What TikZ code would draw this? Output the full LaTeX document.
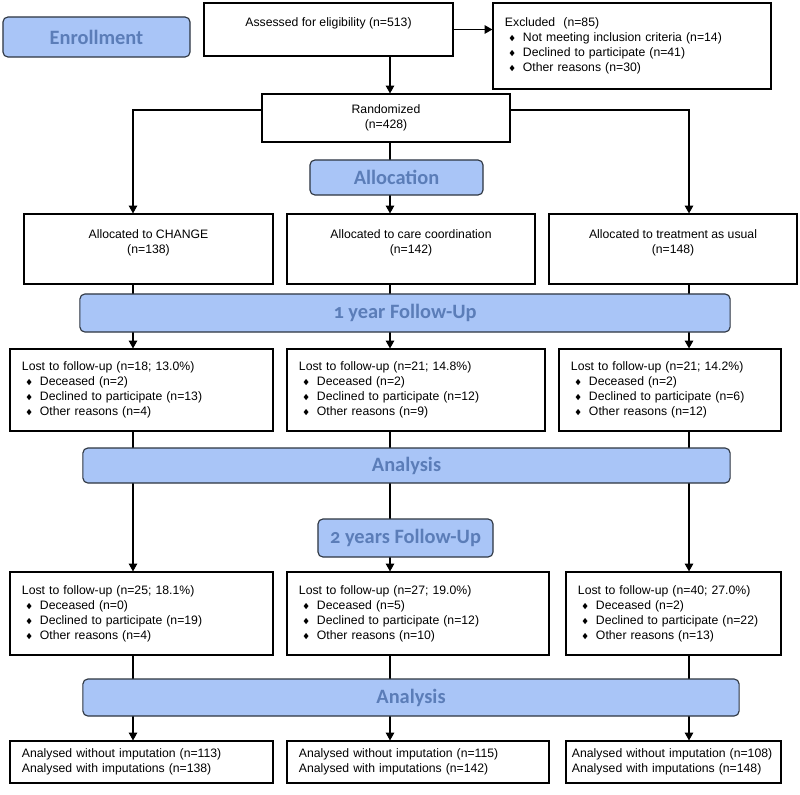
\documentclass[tikz,border=0pt]{standalone}
\usepackage{fontspec}
\usepackage{amssymb}
\setmainfont{Liberation Sans}
\newfontfamily\barfont[Numbers=OldStyle]{Carlito}
\usetikzlibrary{arrows.meta,backgrounds}

\definecolor{barfill}{HTML}{A9C5F7}
\definecolor{bartext}{HTML}{5B7DB8}
\definecolor{barline}{HTML}{2D3540}

\newcommand{\itm}{\hspace*{2.8pt}\makebox[10pt][l]{\raisebox{0.6pt}{\tiny$\blacklozenge$}}}

\tikzset{
  box/.style={draw, line width=0.8pt, inner sep=0pt, align=center,
    font=\fontsize{8.7}{10.6}\selectfont},
  lbox/.style={box, align=left, inner xsep=0.3cm},
  bar/.style={draw=barline, fill=barfill, rounded corners=3.5pt, line width=0.8pt,
    inner sep=0pt, text=bartext, font=\barfont\bfseries\fontsize{14.5}{16}\selectfont},
  arr/.style={-{Triangle[length=5.5pt,width=6pt]}, line width=0.8pt},
}

\begin{document}
\begin{tikzpicture}[x=0.025cm,y=-0.025cm]
    \useasboundingbox (0,0) rectangle (800,794);

    % columns of the three arms
    \coordinate (A) at (133,0);
    \coordinate (B) at (390,0);
    \coordinate (C) at (689,0);

    % enrollment
    \node (enroll) at (96.5,37) [bar,minimum width=4.675cm,minimum height=1cm] {Enrollment};
    \node (assess) at (328.5,29.5) [box,minimum width=6.225cm,minimum height=1.325cm]
        {Assessed for eligibility (n=513)\\ \mbox{}};
    \node (excl) at (632,46) [lbox,text width=6.35cm,minimum height=2.15cm]
        {Excluded~~(n=85)\\ \itm Not meeting inclusion criteria (n=14)\\
         \itm Declined to participate (n=41)\\ \itm Other reasons (n=30)};
    \node (rand) at (386,118) [box,minimum width=6.2cm,minimum height=1.2cm] {Randomized\\(n=428)};

    % allocation
    \node (alloc) at (396.5,177.5) [bar,minimum width=4.325cm,minimum height=0.875cm] {Allocation};
    \node (alloc1) at (148.5,249) [box,minimum width=6.225cm,minimum height=1.75cm]
        {Allocated to CHANGE\\(n=138)\\ \mbox{}};
    \node (alloc2) at (411,249) [box,minimum width=6.2cm,minimum height=1.75cm]
        {Allocated to care coordination\\(n=142)\\ \mbox{}};
    \node (alloc3) at (673,249) [box,minimum width=6.2cm,minimum height=1.75cm]
        {Allocated to treatment as usual\\(n=148)\\ \mbox{}};

    % 1 year
    \node (fu1) at (405,313) [bar,minimum width=16.25cm,minimum height=0.95cm] {1 year Follow-Up};
    \node (lost1a) at (141.5,390) [lbox,text width=5.975cm,minimum height=2.05cm]
        {Lost to follow-up (n=18; 13.0\%)\\ \itm Deceased (n=2)\\
         \itm Declined to participate (n=13)\\ \itm Other reasons (n=4)};
    \node (lost1b) at (416,390) [lbox,text width=5.85cm,minimum height=2.05cm]
        {Lost to follow-up (n=21; 14.8\%)\\ \itm Deceased (n=2)\\
         \itm Declined to participate (n=12)\\ \itm Other reasons (n=9)};
    \node (lost1c) at (670,390) [lbox,text width=4.95cm,minimum height=2.05cm]
        {Lost to follow-up (n=21; 14.2\%)\\ \itm Deceased (n=2)\\
         \itm Declined to participate (n=6)\\ \itm Other reasons (n=12)};
    \node (an1) at (406.5,465.5) [bar,minimum width=16.175cm,minimum height=0.875cm] {Analysis};

    % 2 years
    \node (fu2) at (405.5,538) [bar,minimum width=4.375cm,minimum height=0.95cm] {2 years Follow-Up};
    \node (lost2a) at (141.5,613.5) [lbox,text width=5.975cm,minimum height=2.075cm]
        {Lost to follow-up (n=25; 18.1\%)\\ \itm Deceased (n=0)\\
         \itm Declined to participate (n=19)\\ \itm Other reasons (n=4)};
    \node (lost2b) at (418,613.5) [lbox,text width=5.95cm,minimum height=2.075cm]
        {Lost to follow-up (n=27; 19.0\%)\\ \itm Deceased (n=5)\\
         \itm Declined to participate (n=12)\\ \itm Other reasons (n=10)};
    \node (lost2c) at (673.5,613.5) [lbox,text width=4.775cm,minimum height=2.075cm]
        {Lost to follow-up (n=40; 27.0\%)\\ \itm Deceased (n=2)\\
         \itm Declined to participate (n=22)\\ \itm Other reasons (n=13)};
    \node (an2) at (411,697.5) [bar,minimum width=16.4cm,minimum height=0.925cm] {Analysis};

    % final numbers
    \node (fin1) at (141.5,762) [lbox,text width=5.975cm,minimum height=1.05cm]
        {Analysed without imputation (n=113)\\Analysed with imputations (n=138)};
    \node (fin2) at (418,762) [lbox,text width=5.95cm,minimum height=1.05cm]
        {Analysed without imputation (n=115)\\Analysed with imputations (n=142)};
    \node (fin3) at (673.5,762) [lbox,inner xsep=0.15cm,text width=5.075cm,minimum height=1.05cm]
        {Analysed without imputation (n=108)\\Analysed with imputations (n=148)};

    \begin{scope}[on background layer]
        \draw[arr] (assess.east) -- (assess.east -| excl.west);
        \draw[arr] (assess.south -| B) -- (rand.north -| B);
        \draw[arr] ([yshift=0.2cm]rand.west) -| (alloc1.north -| A);
        \draw[arr] ([yshift=0.2cm]rand.east) -| (alloc3.north -| C);
        \draw[arr] (rand.south -| B) -- (alloc2.north -| B);
        \foreach \c/\a/\b in {A/alloc1/lost1a, B/alloc2/lost1b, C/alloc3/lost1c,
                              A/lost1a/lost2a, B/lost1b/lost2b, C/lost1c/lost2c,
                              A/lost2a/fin1, B/lost2b/fin2, C/lost2c/fin3}
            \draw[arr] (\a.south -| \c) -- (\b.north -| \c);
    \end{scope}

\end{tikzpicture}
\end{document}
